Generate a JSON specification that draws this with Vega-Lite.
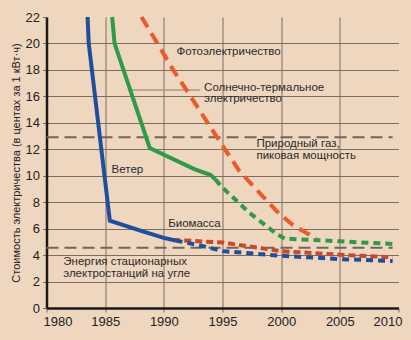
{
  "$schema": "https://vega.github.io/schema/vega-lite/v6.json",
  "autosize": {"type": "none"},
  "padding": {"left": 46.5, "top": 17, "right": 12.5, "bottom": 32},
  "width": 352,
  "height": 291,
  "background": "#efd6bf",
  "config": {
    "view": {"stroke": null},
    "axis": {
      "domainColor": "#1a1a1a",
      "domainWidth": 2.5,
      "gridColor": "#7a6e64",
      "gridWidth": 1,
      "tickColor": "#7a6e64",
      "tickSize": 4,
      "labelFont": "Liberation Sans",
      "labelFontSize": 13,
      "labelColor": "#222222",
      "labelPadding": 3,
      "titleFont": "Liberation Sans",
      "titleFontSize": 11,
      "titleFontWeight": "normal",
      "titleColor": "#222222",
      "titlePadding": 4
    }
  },
  "datasets": {
    "lines": [
      {"series": "wind", "style": "solid", "year": 1983.5, "value": 22},
      {"series": "wind", "style": "solid", "year": 1983.6, "value": 20},
      {"series": "wind", "style": "solid", "year": 1985.4, "value": 6.6},
      {"series": "wind", "style": "solid", "year": 1988, "value": 5.85},
      {"series": "wind", "style": "solid", "year": 1990, "value": 5.3},
      {"series": "wind", "style": "solid", "year": 1991, "value": 5.1},
      {"series": "wind", "style": "dashed", "year": 1991, "value": 5.1},
      {"series": "wind", "style": "dashed", "year": 1993, "value": 4.75},
      {"series": "wind", "style": "dashed", "year": 1995, "value": 4.3},
      {"series": "wind", "style": "dashed", "year": 2000, "value": 3.95},
      {"series": "wind", "style": "dashed", "year": 2005, "value": 3.7},
      {"series": "wind", "style": "dashed", "year": 2009.5, "value": 3.55},
      {"series": "thermal", "style": "solid", "year": 1985.6, "value": 22},
      {"series": "thermal", "style": "solid", "year": 1985.8, "value": 20},
      {"series": "thermal", "style": "solid", "year": 1988.8, "value": 12.1},
      {"series": "thermal", "style": "solid", "year": 1992.6, "value": 10.5},
      {"series": "thermal", "style": "solid", "year": 1994, "value": 10.05},
      {"series": "thermal", "style": "solid", "year": 1994.4, "value": 9.7},
      {"series": "thermal", "style": "dashed", "year": 1994.4, "value": 9.7},
      {"series": "thermal", "style": "dashed", "year": 1995, "value": 9.1},
      {"series": "thermal", "style": "dashed", "year": 1997.3, "value": 7.2},
      {"series": "thermal", "style": "dashed", "year": 1999.6, "value": 5.6},
      {"series": "thermal", "style": "dashed", "year": 2000.3, "value": 5.25},
      {"series": "thermal", "style": "dashed", "year": 2005, "value": 5.04},
      {"series": "thermal", "style": "dashed", "year": 2009.5, "value": 4.84},
      {"series": "pv", "style": "dashed", "year": 1988.1, "value": 22},
      {"series": "pv", "style": "dashed", "year": 1990.8, "value": 18},
      {"series": "pv", "style": "dashed", "year": 1992.5, "value": 15.7},
      {"series": "pv", "style": "dashed", "year": 1994.5, "value": 12.95},
      {"series": "pv", "style": "dashed", "year": 1996.4, "value": 10.4},
      {"series": "pv", "style": "dashed", "year": 1998, "value": 8.85},
      {"series": "pv", "style": "dashed", "year": 1999.8, "value": 7.16},
      {"series": "pv", "style": "dashed", "year": 2001, "value": 6.27},
      {"series": "pv", "style": "dashed", "year": 2002.7, "value": 5.39},
      {"series": "pv", "style": "dashed", "year": 2003, "value": 5.25},
      {"series": "biomass", "style": "dashed", "year": 1990.8, "value": 5.15},
      {"series": "biomass", "style": "dashed", "year": 1995, "value": 4.95},
      {"series": "biomass", "style": "dashed", "year": 2000, "value": 4.3},
      {"series": "biomass", "style": "dashed", "year": 2005, "value": 4.03},
      {"series": "biomass", "style": "dashed", "year": 2009.5, "value": 3.83},
      {"series": "gas", "style": "ref", "year": 1980, "value": 12.9},
      {"series": "gas", "style": "ref", "year": 2009.5, "value": 12.9},
      {"series": "coal", "style": "ref", "year": 1980, "value": 4.56},
      {"series": "coal", "style": "ref", "year": 2009.5, "value": 4.56},
      {"series": "leader", "style": "leader", "year": 1987.3, "value": 16.48},
      {"series": "leader", "style": "leader", "year": 1993.1, "value": 16.48}
    ],
    "labels": [
      {"year": 1991.08, "value": 19.38, "label": "Фотоэлектричество"},
      {"year": 1993.43, "value": 16.61, "label": "Солнечно-термальное"},
      {"year": 1993.43, "value": 15.78, "label": "электричество"},
      {"year": 1997.89, "value": 12.4, "label": "Природный газ,"},
      {"year": 1997.89, "value": 11.51, "label": "пиковая мощность"},
      {"year": 1985.55, "value": 10.43, "label": "Ветер"},
      {"year": 1990.37, "value": 6.35, "label": "Биомасса"},
      {"year": 1981.43, "value": 3.46, "label": "Энергия стационарных"},
      {"year": 1981.43, "value": 2.57, "label": "электростанций на угле"}
    ]
  },
  "encoding": {
    "x": {
      "field": "year",
      "type": "quantitative",
      "scale": {"domain": [1980, 2010], "nice": false, "zero": false},
      "axis": {
        "values": [1980, 1985, 1990, 1995, 2000, 2005, 2010],
        "format": "d",
        "title": null,
        "labelFlush": false,
        "labelOffset": {"condition": [{"test": "datum.value == 1980", "value": 11}, {"test": "datum.value == 2010", "value": -11}], "value": 0},
        "gridOpacity": {"condition": {"test": "datum.value == 1980 || datum.value == 2010", "value": 0}, "value": 1}
      }
    },
    "y": {
      "field": "value",
      "type": "quantitative",
      "scale": {"domain": [0, 22], "nice": false},
      "axis": {
        "values": [0, 2, 4, 6, 8, 10, 12, 14, 16, 18, 20, 22],
        "title": "Стоимость электричества (в центах за 1 кВт·ч)",
        "gridOpacity": {"condition": {"test": "datum.value == 0 || datum.value == 22", "value": 0}, "value": 1}
      }
    }
  },
  "layer": [
    {
      "data": {"name": "lines"},
      "transform": [{"filter": "datum.style == 'ref'"}],
      "mark": {"type": "line", "color": "#6f6660", "strokeWidth": 2, "strokeDash": [12, 6]},
      "encoding": {"detail": {"field": "series"}}
    },
    {
      "data": {"name": "lines"},
      "transform": [{"filter": "datum.style == 'leader'"}],
      "mark": {"type": "line", "color": "#a89886", "strokeWidth": 1.5},
      "encoding": {}
    },
    {
      "data": {"name": "lines"},
      "transform": [{"filter": "datum.series == 'biomass'"}],
      "mark": {"type": "line", "color": "#c9472b", "strokeWidth": 4, "strokeDash": [7, 4]},
      "encoding": {}
    },
    {
      "data": {"name": "lines"},
      "transform": [{"filter": "datum.series == 'wind' && datum.style == 'solid'"}],
      "mark": {"type": "line", "color": "#1f4e9c", "strokeWidth": 4},
      "encoding": {}
    },
    {
      "data": {"name": "lines"},
      "transform": [{"filter": "datum.series == 'wind' && datum.style == 'dashed'"}],
      "mark": {"type": "line", "color": "#1f4e9c", "strokeWidth": 4, "strokeDash": [7, 5]},
      "encoding": {}
    },
    {
      "data": {"name": "lines"},
      "transform": [{"filter": "datum.series == 'thermal' && datum.style == 'solid'"}],
      "mark": {"type": "line", "color": "#2e9a4a", "strokeWidth": 4},
      "encoding": {}
    },
    {
      "data": {"name": "lines"},
      "transform": [{"filter": "datum.series == 'thermal' && datum.style == 'dashed'"}],
      "mark": {"type": "line", "color": "#2e9a4a", "strokeWidth": 4, "strokeDash": [7, 5]},
      "encoding": {}
    },
    {
      "data": {"name": "lines"},
      "transform": [{"filter": "datum.series == 'pv'"}],
      "mark": {"type": "line", "color": "#ea5a2a", "strokeWidth": 4, "strokeDash": [12, 7]},
      "encoding": {}
    },
    {
      "data": {"name": "labels"},
      "mark": {"type": "text", "align": "left", "baseline": "middle", "font": "Liberation Sans", "fontSize": 11.5, "color": "#2a2a2a"},
      "encoding": {"text": {"field": "label"}}
    }
  ]
}
